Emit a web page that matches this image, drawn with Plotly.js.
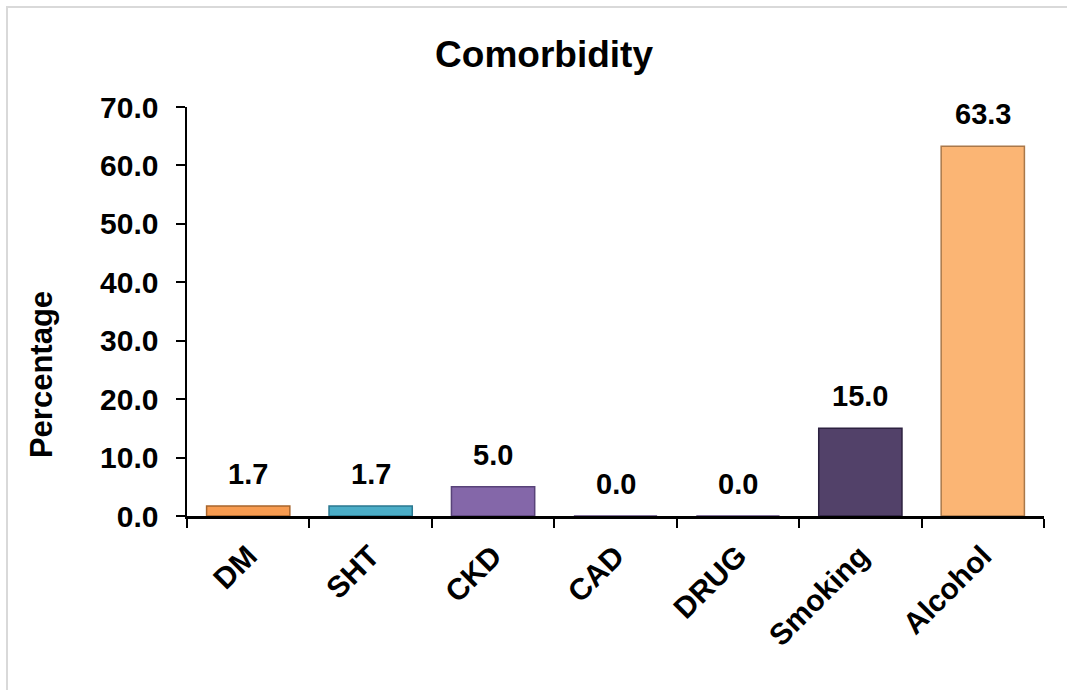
<!DOCTYPE html>
<html>
<head>
<meta charset="utf-8">
<script src="https://cdn.plot.ly/plotly-3.0.1.min.js"></script>
<style>
  html, body { margin: 0; padding: 0; background: #fff; }
  #wrap { position: relative; width: 1067px; height: 690px; overflow: hidden; }
  #chart { width: 1067px; height: 690px; }
  #frame {
    position: absolute; left: 6px; top: 6px; right: -20px; bottom: -20px;
    border-top: 2px solid #d9d9d9; border-left: 2px solid #d9d9d9;
    pointer-events: none;
  }
</style>
</head>
<body>
<div id="wrap">
  <div id="chart"></div>
  <div id="frame"></div>
</div>
<script>
// Comorbidity shares (%)
const categories = ['DM', 'SHT', 'CKD', 'CAD', 'DRUG', 'Smoking', 'Alcohol'];
const percentages = [1.7, 1.7, 5.0, 0.0, 0.0, 15.0, 63.3];
const barColors = ['#F79B50', '#4BADC7', '#8467A9', '#8467A9', '#8467A9', '#524169', '#FBB574'];
const edgeColors = ['#A8652C', '#2B7890', '#584379', '#584379', '#584379', '#2C2140', '#A9784A'];
const yTicks = [0, 10, 20, 30, 40, 50, 60, 70];

const FONT = 'Liberation Sans, Arial, sans-serif';

const trace = {
  type: 'bar',
  x: categories,
  y: percentages,
  marker: { color: barColors, line: { color: edgeColors, width: 1.5 } },
  hoverinfo: 'x+y'
};

// value labels above each bar
const valueLabels = categories.map((c, i) => ({
  x: c, y: percentages[i], xref: 'x', yref: 'y',
  text: percentages[i].toFixed(1),
  showarrow: false, yanchor: 'bottom', yshift: 14,
  font: { family: FONT, size: 29, color: '#000', weight: 'bold' }
}));

const layout = {
  width: 1067, height: 690,
  margin: { l: 187, r: 23, t: 107, b: 174 },
  paper_bgcolor: '#fff', plot_bgcolor: '#fff',
  showlegend: false,
  bargap: 0.32,
  title: {
    text: 'Comorbidity',
    font: { family: FONT, size: 37, color: '#000', weight: 'bold' },
    xref: 'paper', x: 0.4166, xanchor: 'center',
    yref: 'container', y: 0.922, yanchor: 'middle'
  },
  xaxis: {
    type: 'category',
    showline: true, linecolor: '#000', linewidth: 2.5,
    ticks: 'outside', tickson: 'boundaries', ticklen: 9, tickwidth: 2, tickcolor: '#000',
    tickangle: -45,
    ticklabelstandoff: 8,
    tickfont: { family: FONT, size: 30, color: '#000', weight: 'bold' },
    showgrid: false, zeroline: false
  },
  yaxis: {
    range: [0, 70],
    tickvals: yTicks,
    ticktext: yTicks.map(v => v.toFixed(1)),
    showline: true, linecolor: '#000', linewidth: 2.5,
    ticks: 'outside', ticklen: 9, tickwidth: 2, tickcolor: '#000',
    ticklabelstandoff: 11,
    tickfont: { family: FONT, size: 30, color: '#000', weight: 'bold' },
    showgrid: false, zeroline: false
  },
  annotations: valueLabels.concat([{
    text: 'Percentage', xref: 'paper', yref: 'paper',
    x: -0.169, y: 0.345, xanchor: 'center', yanchor: 'middle',
    textangle: -90, showarrow: false,
    font: { family: FONT, size: 31, color: '#000', weight: 'bold' }
  }])
};

Plotly.newPlot('chart', [trace], layout, { displayModeBar: false, staticPlot: true });
</script>
</body>
</html>
